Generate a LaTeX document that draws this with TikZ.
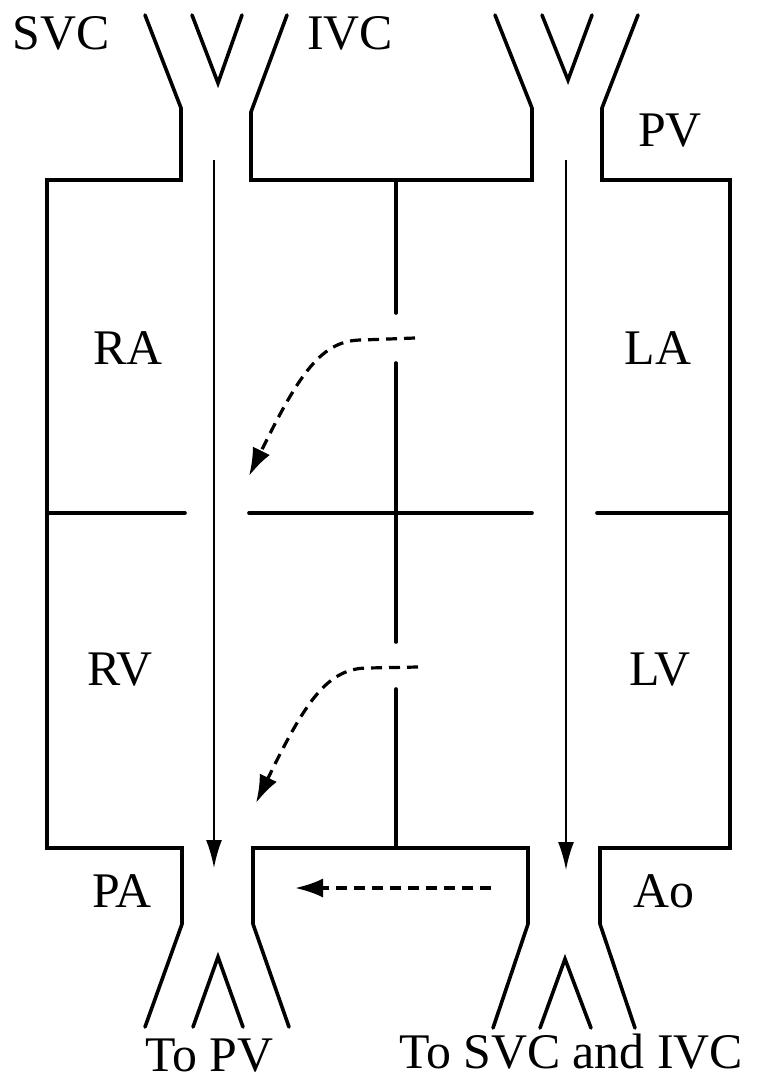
\documentclass[tikz,border=0pt]{standalone}
\usepackage{fontspec}
\setmainfont{Liberation Serif}
\usetikzlibrary{arrows.meta}
\begin{document}
\begin{tikzpicture}[x=1bp,y=-1bp,
  wall/.style={line width=3.6bp,line cap=round,line join=miter},
  flow/.style={line width=2bp,-{Latex[length=28bp,width=16bp]}},
  shunt/.style={line width=3.2bp,dash pattern=on 11bp off 7bp,-{Latex[length=28bp,width=19bp]}},
  lbl/.style={font=\fontsize{50}{54}\selectfont,inner sep=0pt}]
\useasboundingbox (0,0) rectangle (759,1081);
% chambers outline
\draw[wall] (145,15) -- (181,108) -- (181,180) -- (47,180) -- (47,848) -- (182,848) -- (182,924) -- (145,1027);
\draw[wall] (287,15) -- (251,112) -- (251,180) -- (532,180) -- (532,108) -- (495,15);
\draw[wall] (638,15) -- (602,108) -- (602,180) -- (730,180) -- (730,848) -- (600,848) -- (600,924) -- (635,1028);
\draw[wall] (289,1027) -- (253,924) -- (253,848) -- (528,848) -- (528,924) -- (493,1028);
% inner V's
\draw[wall] (192,15) -- (218,83) -- (242,15);
\draw[wall] (542,15) -- (568,80) -- (592,15);
\draw[wall] (193,1027) -- (218,957) -- (243,1027);
\draw[wall] (540,1028) -- (565,959) -- (591,1028);
% AV plane
\draw[wall] (47,513) -- (185,513);
\draw[wall] (249,513) -- (532,513);
\draw[wall] (597,513) -- (730,513);
% septum
\draw[wall] (396,180) -- (396,313);
\draw[wall] (396,363) -- (396,642);
\draw[wall] (396,689) -- (396,848);
% flow arrows
\coordinate (rs) at (214,160); \coordinate (re) at (214,868);
\coordinate (ls) at (566,160); \coordinate (le) at (566,870);
\draw[flow] (rs) -- (re);
\draw[flow] (ls) -- (le);
% shunts
\coordinate (asd1) at (415,338); \coordinate (asd2) at (249,476);
\coordinate (vsd1) at (418,667); \coordinate (vsd2) at (256,803);
\coordinate (pda1) at (491,888); \coordinate (pda2) at (295,888);
\draw[shunt] (asd1) -- (362,340) .. controls (322,340) and (300,372) .. (asd2);
\draw[shunt] (vsd1) -- (368,668) .. controls (328,668) and (306,700) .. (vsd2);
\draw[shunt] (pda1) -- (pda2);
% labels
\node[lbl] (svc) at (61,33) {SVC};
\node[lbl] (ivc) at (350,33) {IVC};
\node[lbl] (pv) at (670,131) {PV};
\node[lbl] (ra) at (128,348) {RA};
\node[lbl] (la) at (658,348) {LA};
\node[lbl] (rv) at (120,670) {RV};
\node[lbl] (lv) at (660,670) {LV};
\node[lbl] (pa) at (122,891) {PA};
\node[lbl] (ao) at (664,891) {Ao};
\node[lbl] (topv) at (209,1056) {To PV};
\node[lbl] (tosvc) at (571,1052) {To SVC and IVC};
\end{tikzpicture}
\end{document}
